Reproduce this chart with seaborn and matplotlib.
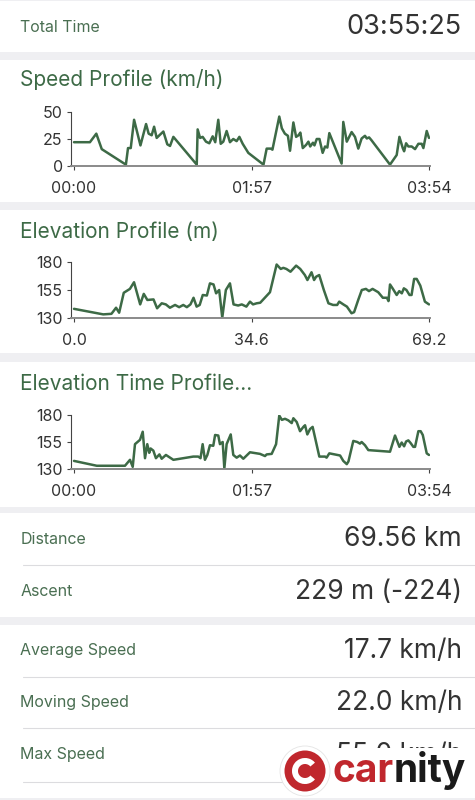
import matplotlib
matplotlib.use("Agg")
import matplotlib.pyplot as plt
import seaborn as sns
import pandas as pd
from matplotlib.patches import Rectangle, Circle, Wedge

# speed profile: minutes since start, km/h
speed_minutes = [0, 10.5, 14.7, 18.3, 34.2, 35.6, 37.4, 39.6, 43.8, 47.5, 49.2, 51.2, 52.8, 54.5,
                 56.3, 58.9, 61.5, 63.3, 65.5, 80.9, 81.5, 83.1, 84.8, 87.0, 89.2, 91.4, 93.1,
                 95.1, 96.7, 98.4, 100.6, 102.8, 105.0, 107.2, 109.0, 111.2, 114.9, 124.9, 127.0,
                 129.7, 130.8, 135.3, 137.0, 139.0, 141.0, 142.4, 144.6, 146.4, 148.0, 149.2,
                 150.8, 153.0, 154.5, 155.7, 157.5, 158.5, 160.0, 161.8, 163.9, 165.5, 167.0,
                 168.3, 176.4, 177.5, 179.8, 183.0, 185.2, 187.4, 189.6, 191.8, 193.0, 194.5,
                 196.0, 208.3, 212.7, 214.5, 216.7, 217.6, 218.9, 220.4, 222.6, 224.8, 227.0,
                 229.2, 230.3, 232.5, 234.0]
speed_kmh = [22, 22, 30, 15.5, 1, 16.5, 16.5, 43, 19, 39, 30, 28.5, 36.5, 26,
             28.5, 32, 20, 18.5, 27, 1, 34, 26, 27, 22.5, 21, 27.5, 22,
             43, 20.5, 22.5, 32.5, 22, 25, 23, 27, 20.5, 12, 1, 16,
             16, 15, 46, 35, 30, 28, 14, 40.5, 27, 28.5, 31,
             16.5, 19.5, 22.5, 18, 21.5, 19, 25, 25, 12, 18, 17,
             30.5, 2, 41, 22.5, 31.5, 27, 16, 25.5, 28, 25.5, 26.5,
             24, 1, 10, 27, 16.5, 13.5, 21, 18, 18, 15.5, 20.5,
             20.5, 16.5, 32.5, 26]

# elevation profile: km, m
elev_km = [0, 5.7, 7.3, 8.2, 8.8, 9.7, 10.9, 11.7, 12.9, 13.6, 14.3, 15.5, 16.2, 17.1, 17.9,
           18.7, 19.7, 20.5, 21.3, 22.0, 22.7, 23.3, 23.9, 24.5, 25.1, 25.9, 26.5, 27.2, 27.7,
           28.3, 28.9, 29.6, 30.4, 31.1, 32.0, 32.7, 33.6, 34.3, 34.9, 35.6, 36.3, 37.2, 38.2,
           39.5, 40.3, 40.8, 41.4, 42.2, 43.3, 44.1, 45.0, 45.5, 46.3, 46.8, 47.2, 47.8, 48.7,
           49.6, 50.5, 51.3, 51.7, 52.5, 53.2, 54.1, 54.6, 55.4, 56.1, 56.9, 57.5, 58.2, 59.3,
           60.2, 61.0, 61.3, 61.6, 62.1, 62.9, 63.4, 63.9, 64.3, 64.8, 65.4, 65.8, 66.3, 66.8,
           67.5, 68.4, 69.2]
elev_m = [138, 133, 133.5, 139, 134.5, 152.5, 156, 162, 142, 151.5, 146, 146.5, 138.5, 143, 142,
          139, 141.5, 139.5, 141.5, 139.5, 142, 148, 140, 141.5, 150.5, 150, 161, 160, 152,
          155, 130, 155, 161, 142, 141, 142, 140, 144.5, 142, 143, 143.5, 148, 153,
          178, 174, 175, 174, 171.5, 177, 174, 168.5, 164, 171, 164, 167, 168.5, 155,
          143, 141.5, 141.5, 144.5, 142, 140, 134, 135, 146, 155, 156, 154, 156, 153,
          148, 148, 145, 160, 156.5, 150.5, 154, 152, 156.5, 155, 150.5, 150.5, 165, 165,
          159, 144.5, 142]

# elevation over time: minutes, m
elev_t_minutes = [0, 15, 33.6, 36.9, 38.7, 40.2, 43.5, 45.3, 46.8, 48.3, 49.6, 50.5, 52.3, 54.0,
                  56.3, 57.8, 60.6, 65.5, 78.6, 81.9, 83.4, 84.8, 86.3, 87.9, 89.6, 91.8, 93.0,
                  95.1, 96.2, 98.0, 99.1, 100.6, 103.3, 105.0, 107.2, 109.4, 111.6, 116.0, 122.6,
                  125.9, 127.0, 130.3, 133.2, 135.3, 137.0, 139.1, 141.3, 143.5, 144.6, 146.8,
                  149.0, 151.2, 152.3, 153.8, 155.6, 157.3, 161.7, 165.5, 166.5, 168.3, 175.4,
                  177.5, 179.8, 180.9, 184.1, 186.7, 188.5, 189.6, 191.8, 194.0, 208.3, 211.6,
                  214.5, 216.0, 217.6, 218.9, 220.4, 221.9, 223.7, 224.8, 227.0, 228.5, 229.9,
                  232.5, 234.0]
elev_t_m = [137.5, 133, 133, 138.5, 132, 153, 157, 164.5, 140, 153, 145, 149, 147, 140,
            143.5, 139.5, 143, 138.5, 141.5, 141.5, 140, 153, 138.5, 143, 152, 151.5, 161.5,
            161, 153, 155, 130.5, 153, 162, 143, 140.5, 142.5, 139.5, 145.5, 144,
            142, 143.5, 144, 153, 179.5, 175.5, 176.5, 175, 172.5, 177, 173.5,
            165, 169, 170.5, 162, 167, 169, 141.5, 141.5, 140.5, 144.5, 142.5,
            137.5, 134.5, 137, 156, 155, 153.5, 155, 152, 147.5, 146, 161,
            150.5, 154.5, 151, 155.5, 156.5, 154, 150.5, 150.5, 165, 165, 161.5,
            144.5, 143]

stat_labels = ["Distance", "Ascent", "Average Speed", "Moving Speed", "Max Speed"]
stat_values = ["69.56 km", "229 m (-224)", "17.7 km/h", "22.0 km/h", "55.0 km/h"]

GREEN = "#3d6a46"
LABEL_GREEN = "#4a6f52"
BG = "#efeff2"

sns.set_theme(style="white")
plt.rcParams["font.family"] = ["Inter", "DejaVu Sans"]

W, H = 475, 800
fig = plt.figure(figsize=(4.75, 8), dpi=100, facecolor=BG)

# background layer in pixel coordinates (y down)
bg = fig.add_axes([0, 0, 1, 1])
bg.set_xlim(0, W)
bg.set_ylim(H, 0)
bg.axis("off")
bg.set_zorder(0)

for top, bottom in [(1, 52), (60, 202), (210, 353), (362, 507), (513, 617), (625, 798)]:
    bg.add_patch(Rectangle((0, top), W, bottom - top, facecolor="white", edgecolor="none"))
for y in [565, 677, 728, 782]:
    bg.plot([23, W], [y, y], color="#dcdcdf", lw=0.8)

bg.text(20.5, 27, "Total Time", color=LABEL_GREEN, fontsize=11.5, va="center")
bg.text(462, 27, "03:55:25", color="#333333", fontsize=19.5, va="center", ha="right")

for y, title in [(80, "Speed Profile (km/h)"), (232, "Elevation Profile (m)"),
                 (384, "Elevation Time Profile...")]:
    bg.text(20.5, y, title, color=GREEN, fontsize=15, va="center")

for y, lab, val in zip([539, 592, 651, 703, 755], stat_labels, stat_values):
    bg.text(20.5, y, lab, color=LABEL_GREEN, fontsize=11.5, va="center")
    t = bg.text(462, y, val, color="#333333", fontsize=19, va="center", ha="right")
    if lab == "Max Speed":
        # only the top of this value shows above the watermark
        clip = Rectangle((300, 735), 175, 13, transform=bg.transData)
        t.set_clip_path(clip)

# carnity watermark over the max speed value
bg.add_patch(Rectangle((300, 748), 175, 50, facecolor="white", edgecolor="none", zorder=5))
bg.add_patch(Circle((305, 771), 25, facecolor="white", edgecolor="#e4e4e4", lw=0.6, zorder=5))
bg.add_patch(Circle((305, 771), 20.5, facecolor="#c0272d", edgecolor="none", zorder=6))
bg.add_patch(Wedge((305, 771), 13, 40, 320, width=6, facecolor="white", edgecolor="none", zorder=7))
bg.text(333, 771, "car", color="#c0272d", fontsize=28, fontweight="bold",
        va="center", ha="left", zorder=8)
bg.text(394, 771, "nity", color="#1a1a1a", fontsize=28, fontweight="bold",
        va="center", ha="left", zorder=8)


def fmt_time(m):
    m = int(round(m))
    return f"{m // 60:02d}:{m % 60:02d}"


def make_axes(y_bottom, y_top, x_vals, y_vals, xlim, xticks, xlabels, ylim, yticks):
    ax = fig.add_axes([71 / W, 1 - y_bottom / H, (430 - 71) / W, (y_bottom - y_top) / H])
    ax.set_zorder(2)
    ax.patch.set_alpha(0)
    df = pd.DataFrame({"x": x_vals, "y": y_vals})
    sns.lineplot(data=df, x="x", y="y", ax=ax, color=GREEN, lw=1.8, sort=False)
    ax.set_xlim(*xlim)
    ax.set_ylim(*ylim)
    ax.set_xticks(xticks)
    ax.set_xticklabels(xlabels)
    ax.set_yticks(yticks)
    ax.set_xlabel("")
    ax.set_ylabel("")
    for s in ["top", "right"]:
        ax.spines[s].set_visible(False)
    ax.spines["left"].set_color("#444444")
    ax.spines["left"].set_linewidth(0.8)
    ax.spines["bottom"].set_color("#8a8a8a")
    ax.spines["bottom"].set_linewidth(1.4)
    ax.tick_params(axis="both", which="both", direction="out", length=3, width=0.8,
                   color="#444444", labelcolor="#333333", labelsize=11.5)
    ax.tick_params(axis="x", pad=8)
    ax.tick_params(axis="y", pad=3)
    ax.tick_params(left=True, bottom=True)
    ax.grid(False)
    return ax


time_xlim = (-1.98, 234.66)
time_ticks = [0, 117, 234]
time_labels = [fmt_time(t) for t in time_ticks]

make_axes(165.7, 112.3, speed_minutes, speed_kmh, time_xlim, time_ticks, time_labels,
          (0, 50), [0, 25, 50])
make_axes(317.7, 262.3, elev_km, elev_m, (-0.585, 69.395), [0, 34.6, 69.2],
          ["0.0", "34.6", "69.2"], (130, 180), [130, 155, 180])
make_axes(469, 415, elev_t_minutes, elev_t_m, time_xlim, time_ticks, time_labels,
          (130, 180), [130, 155, 180])

fig.savefig("out.png", dpi=100, facecolor=BG)
